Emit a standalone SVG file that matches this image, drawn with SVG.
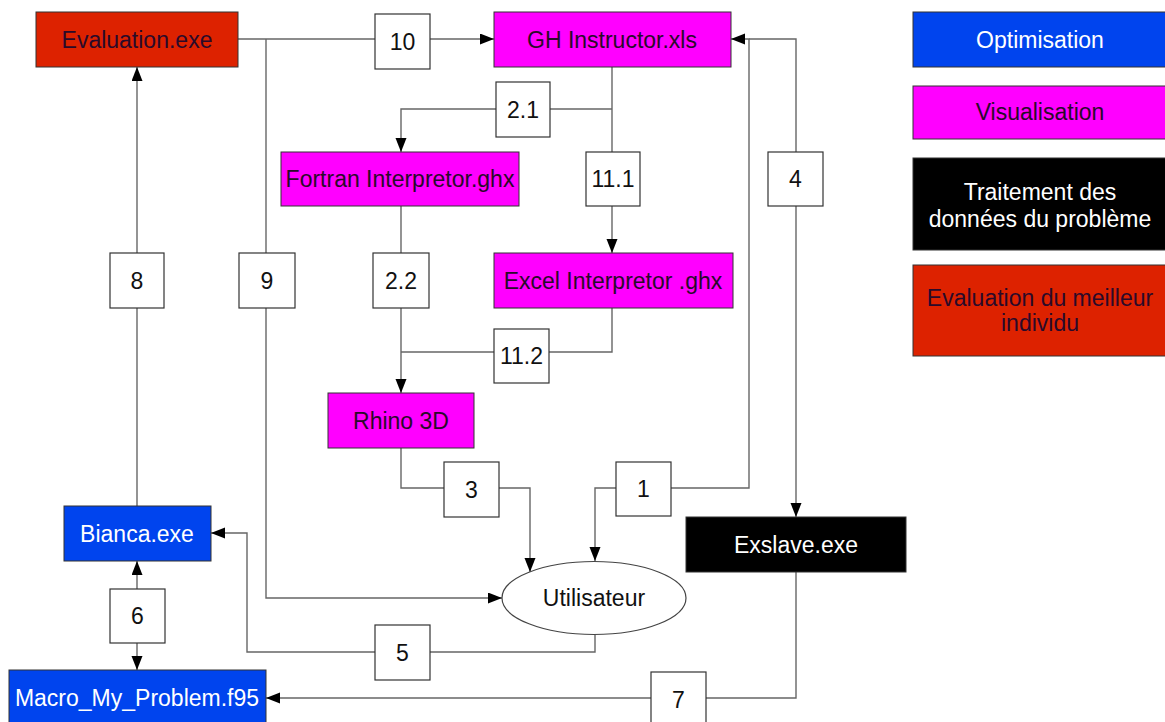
<svg xmlns="http://www.w3.org/2000/svg" width="1165" height="722" viewBox="0 0 1165 722">
<defs>
<marker id="ah" markerUnits="userSpaceOnUse" markerWidth="16" markerHeight="12" refX="14" refY="5.5" orient="auto">
<path d="M0,0 L14,5.5 L0,11 z" fill="#000"/>
</marker>
<style>
.n{stroke:#333;stroke-width:1}
.red{fill:#dd2200}
.mag{fill:#ff00ff}
.blu{fill:#0044ee}
.blk{fill:#000}
.lb{fill:#fff;stroke:#333;stroke-width:1.2}
text{font-family:"Liberation Sans",Arial,sans-serif;font-size:23px;text-anchor:middle;dominant-baseline:central}
.dk{fill:#2a0a2a}
.wh{fill:#fff}
.c{fill:none;stroke:#666;stroke-width:1.4}
</style>
</defs>
<rect width="1165" height="722" fill="#fff"/>
<g id="connectors">
<path class="c" d="M238,39 H375"/>
<path class="c" d="M430,39 H494" marker-end="url(#ah)"/>
<path class="c" d="M612,67 V152"/>
<path class="c" d="M550,109 H612"/>
<path class="c" d="M496,109 H401 V152" marker-end="url(#ah)"/>
<path class="c" d="M612,206 V253" marker-end="url(#ah)"/>
<path class="c" d="M401,206 V253"/>
<path class="c" d="M401,308 V393" marker-end="url(#ah)"/>
<path class="c" d="M494,352 H401"/>
<path class="c" d="M549,352 H612 V308"/>
<path class="c" d="M401,448 V488 H444"/>
<path class="c" d="M499,488 H530 V572" marker-end="url(#ah)"/>
<path class="c" d="M616,488 H595 V561" marker-end="url(#ah)"/>
<path class="c" d="M671,488 H749 V39 H731" marker-end="url(#ah)"/>
<path class="c" d="M749,39 H796 V152"/>
<path class="c" d="M796,206 V517" marker-end="url(#ah)"/>
<path class="c" d="M796,572 V698 H706"/>
<path class="c" d="M651,698 H266" marker-end="url(#ah)"/>
<path class="c" d="M595,635 V652 H430"/>
<path class="c" d="M375,652 H247 V533 H211" marker-end="url(#ah)"/>
<path class="c" d="M266,39 V253"/>
<path class="c" d="M266,308 V598 H502" marker-end="url(#ah)"/>
<path class="c" d="M137,506 V308"/>
<path class="c" d="M137,253 V67" marker-end="url(#ah)"/>
<path class="c" d="M137,589 V561" marker-end="url(#ah)"/>
<path class="c" d="M137,643 V670" marker-end="url(#ah)"/>
</g>
<g id="evaluation"><rect class="n red" x="36" y="12" width="202" height="55"/><text class="dk" x="137" y="40">Evaluation.exe</text></g>
<g id="gh"><rect class="n mag" x="494" y="12" width="237" height="55"/><text class="dk" x="612" y="40">GH Instructor.xls</text></g>
<g id="fortran"><rect class="n mag" x="281" y="152" width="238" height="54"/><text class="dk" x="400" y="179">Fortran Interpretor.ghx</text></g>
<g id="excel"><rect class="n mag" x="494" y="253" width="239" height="55"/><text class="dk" x="613" y="281">Excel Interpretor .ghx</text></g>
<g id="rhino"><rect class="n mag" x="328" y="393" width="146" height="55"/><text class="dk" x="401" y="421">Rhino 3D</text></g>
<g id="utilisateur"><ellipse cx="594" cy="598" rx="92" ry="36.5" fill="#fff" stroke="#444" stroke-width="1.2"/><text fill="#111" x="594" y="598">Utilisateur</text></g>
<g id="exslave"><rect class="n blk" x="686" y="517" width="220" height="55"/><text class="wh" x="796" y="545">Exslave.exe</text></g>
<g id="bianca"><rect class="n blu" x="64" y="506" width="147" height="55"/><text class="wh" x="137" y="534">Bianca.exe</text></g>
<g id="macro"><rect class="n blu" x="9" y="670" width="257" height="56"/><text class="wh" x="137" y="698">Macro_My_Problem.f95</text></g>
<g id="l10"><rect class="lb" x="375" y="14" width="55" height="55"/><text fill="#111" x="402.5" y="41.5">10</text></g>
<g id="l21"><rect class="lb" x="496" y="82" width="54" height="55"/><text fill="#111" x="523" y="109.5">2.1</text></g>
<g id="l111"><rect class="lb" x="586" y="152" width="54" height="54"/><text fill="#111" x="613" y="179">11.1</text></g>
<g id="l4"><rect class="lb" x="768" y="152" width="55" height="54"/><text fill="#111" x="795.5" y="179">4</text></g>
<g id="l8"><rect class="lb" x="110" y="253" width="54" height="55"/><text fill="#111" x="137" y="280.5">8</text></g>
<g id="l9"><rect class="lb" x="239" y="253" width="56" height="55"/><text fill="#111" x="267" y="280.5">9</text></g>
<g id="l22"><rect class="lb" x="373" y="253" width="56" height="55"/><text fill="#111" x="401" y="280.5">2.2</text></g>
<g id="l112"><rect class="lb" x="494" y="329" width="55" height="54"/><text fill="#111" x="521.5" y="356">11.2</text></g>
<g id="l3"><rect class="lb" x="444" y="462" width="55" height="55"/><text fill="#111" x="471.5" y="489.5">3</text></g>
<g id="l1"><rect class="lb" x="616" y="462" width="55" height="54"/><text fill="#111" x="643.5" y="489">1</text></g>
<g id="l6"><rect class="lb" x="110" y="589" width="55" height="54"/><text fill="#111" x="137.5" y="616">6</text></g>
<g id="l5"><rect class="lb" x="375" y="625" width="55" height="55"/><text fill="#111" x="402.5" y="652.5">5</text></g>
<g id="l7"><rect class="lb" x="651" y="672" width="55" height="55"/><text fill="#111" x="678.5" y="699.5">7</text></g>
<g id="leg-opt"><rect class="n blu" x="913" y="12" width="254" height="55"/><text class="wh" x="1040" y="40">Optimisation</text></g>
<g id="leg-vis"><rect class="n mag" x="913" y="86" width="254" height="53"/><text class="dk" x="1040" y="112">Visualisation</text></g>
<g id="leg-trt"><rect class="n blk" x="913" y="158" width="254" height="92"/><text class="wh" x="1040" y="192">Traitement des</text><text class="wh" x="1040" y="219">données du problème</text></g>
<g id="leg-eval"><rect class="n red" x="913" y="265" width="254" height="91"/><text class="dk" x="1040" y="298">Evaluation du meilleur</text><text class="dk" x="1040" y="323">individu</text></g>
</svg>
